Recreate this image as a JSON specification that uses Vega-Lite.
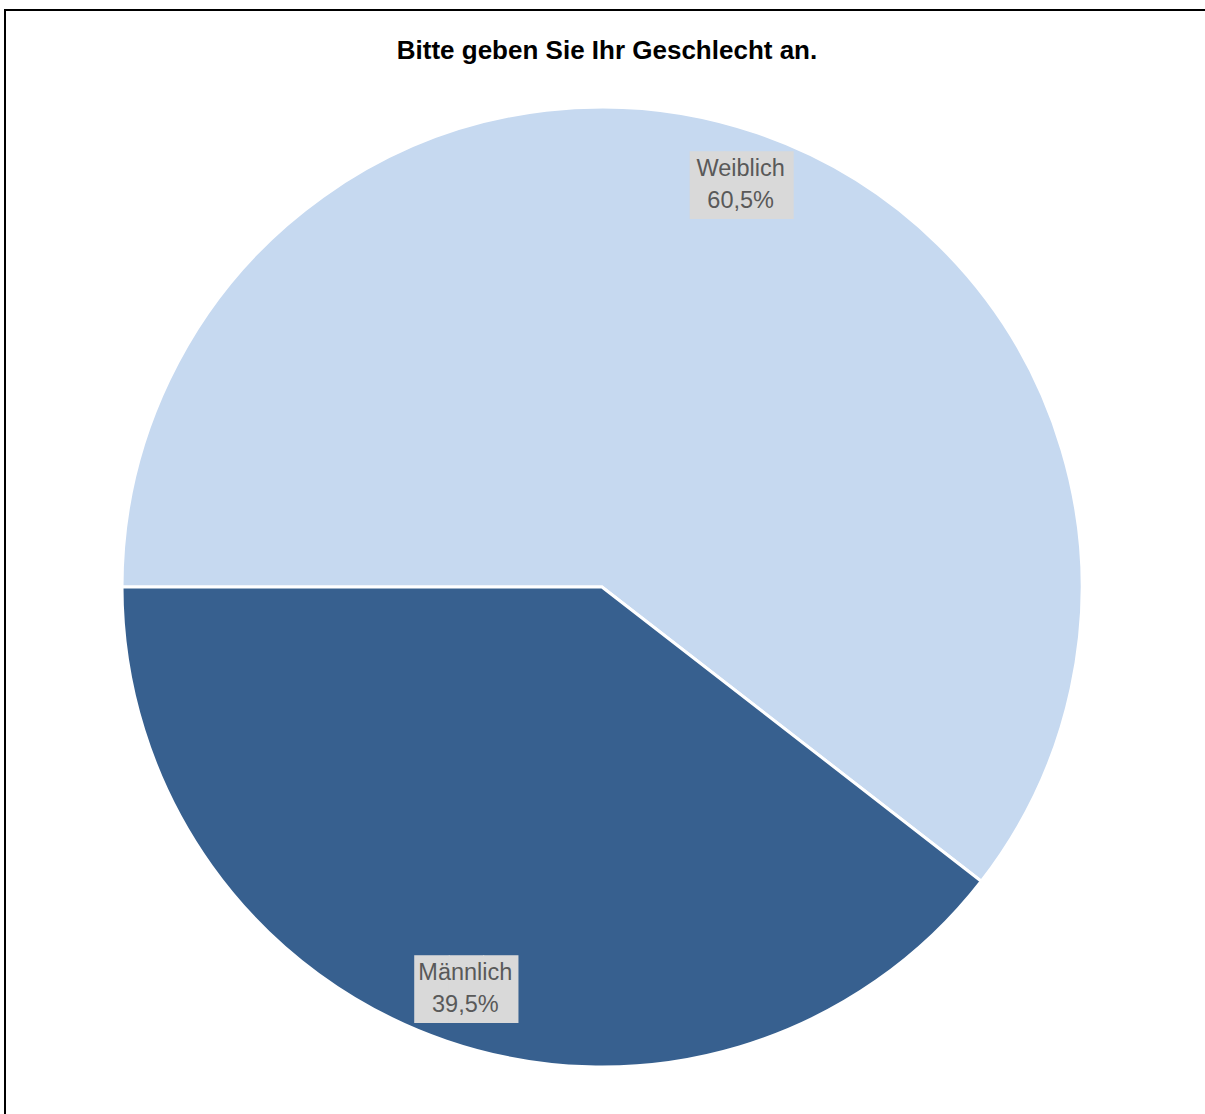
{
  "$schema": "https://vega.github.io/schema/vega-lite/v6.json",
  "autosize": "none",
  "width": 1210,
  "height": 1154,
  "padding": {"left": 5, "top": 10, "right": 0, "bottom": 0},
  "background": "white",
  "title": {
    "text": "Bitte geben Sie Ihr Geschlecht an.",
    "orient": "top",
    "anchor": "middle",
    "frame": "group",
    "offset": -68,
    "baseline": "middle",
    "dx": -3,
    "font": "Liberation Sans",
    "fontSize": 26,
    "fontWeight": "bold",
    "color": "black"
  },
  "layer": [
    {
      "data": {"values": [{"Rahmen": 1}]},
      "mark": {"type": "rect", "fill": null, "fillOpacity": 0, "stroke": "black", "strokeWidth": 2},
      "encoding": {}
    },
    {
      "data": {
        "values": [
          {"Geschlecht": "Weiblich", "Anteil": 60.5},
          {"Geschlecht": "Männlich", "Anteil": 39.5}
        ]
      },
      "transform": [
        {"calculate": "datum.Geschlecht + '\\n' + replace(format(datum.Anteil, '.1f'), '.', ',') + '%'", "as": "Label"}
      ],
      "encoding": {
        "theta": {"field": "Anteil", "type": "quantitative", "stack": true, "scale": {"range": [4.71238898, 10.99557429]}},
        "order": {"field": "Geschlecht", "sort": "descending"}
      },
      "layer": [
        {
          "mark": {"type": "arc", "radius": 480, "stroke": "white", "strokeWidth": 3, "xOffset": -8},
          "encoding": {
            "color": {
              "field": "Geschlecht",
              "type": "nominal",
              "scale": {"domain": ["Weiblich", "Männlich"], "range": ["#c6d9f0", "#37608f"]},
              "legend": null
            }
          }
        },
        {
          "mark": {"type": "text", "radius": 425, "xOffset": -6, "dy": 3, "font": "DejaVu Sans Mono", "fontSize": 57, "baseline": "middle", "align": "center", "color": "#d9d9d9"},
          "encoding": {"text": {"value": "███"}}
        },
        {
          "mark": {"type": "text", "radius": 425, "xOffset": -7, "dy": -16, "font": "Liberation Sans", "fontSize": 23.5, "lineHeight": 32, "lineBreak": "\n", "baseline": "middle", "align": "center", "color": "#595959"},
          "encoding": {"text": {"field": "Label", "type": "nominal"}}
        }
      ]
    }
  ]
}
